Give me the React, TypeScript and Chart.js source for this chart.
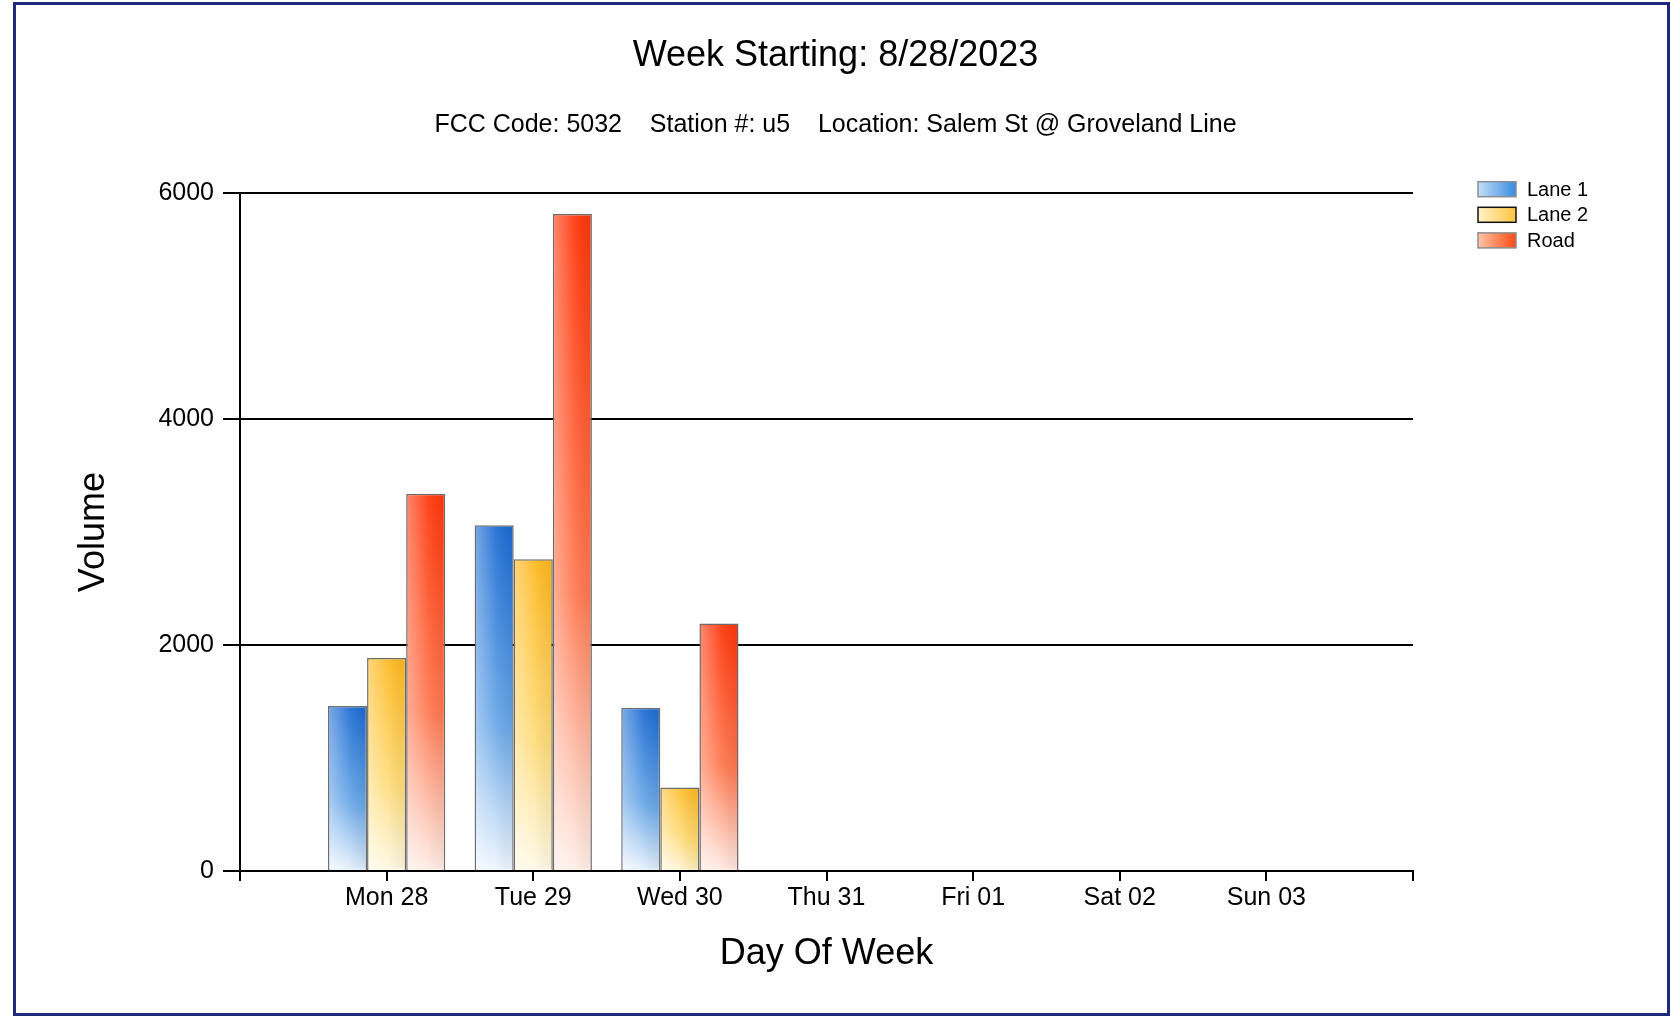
import { useEffect, useRef } from 'react';
import { Chart, registerables } from 'chart.js';

Chart.register(...registerables);

// ---- data ----
const dayLabels = ['Mon 28', 'Tue 29', 'Wed 30', 'Thu 31', 'Fri 01', 'Sat 02', 'Sun 03'];
const seriesNames = ['Lane 1', 'Lane 2', 'Road'];
const lane1Volume = [1460, 3060, 1445, null, null, null, null];
const lane2Volume = [1885, 2760, 740, null, null, null, null];
const roadVolume = [3340, 5815, 2190, null, null, null, null];
const yTickValues = [0, 2000, 4000, 6000];
const titleText = 'Week Starting: 8/28/2023';
const subtitleText = 'FCC Code: 5032    Station #: u5    Location: Salem St @ Groveland Line';

// ---- styling ----
const W = 1671;
const H = 1018;
const FONT = '"Liberation Sans", Arial, Helvetica, sans-serif';

const palettes = [
  { top: '#1a6ad2', mid: '#6aa8e8', bottom: '#f2f8ff', border: '#6c6f74', legL: '#c3def8', legR: '#3b8be2', legBorder: '#8a8f96' },
  { top: '#ffb81e', mid: '#ffdc7a', bottom: '#fffbea', border: '#6c6c66', legL: '#fff3c8', legR: '#ffc440', legBorder: '#111111' },
  { top: '#ff360a', mid: '#ff7a52', bottom: '#fff0ea', border: '#6f6a68', legL: '#ffc6a8', legR: '#ff4a14', legBorder: '#8c8c8c' },
];

function barFill(i: number) {
  return (ctx: any) => {
    const p = palettes[i];
    if (ctx.type !== 'data') return p.top;
    const chart = ctx.chart;
    const xs = chart.scales.x;
    const ys = chart.scales.y;
    const parsed = ctx.parsed;
    if (!parsed || parsed.y == null || !xs || !ys) return p.top;
    const top = ys.getPixelForValue(parsed.y);
    const base = ys.getPixelForValue(0);
    const step = xs.getPixelForValue(1) - xs.getPixelForValue(0);
    const group = step * 0.8;
    const bw = group / 3;
    const left = xs.getPixelForValue(parsed.x) - group / 2 + i * bw;
    if (![top, base, left, bw].every((n) => Number.isFinite(n))) return p.top;
    const g = chart.ctx.createLinearGradient(left, base, left + bw, top);
    g.addColorStop(0, p.bottom);
    g.addColorStop(0.42, p.mid);
    g.addColorStop(1, p.top);
    return g;
  };
}

// soft horizontal sheen on each bar (lighter left edge), positioned from the bar elements
const barSheen = {
  id: 'barSheen',
  afterDatasetsDraw(chart: any) {
    const c = chart.ctx;
    chart.data.datasets.forEach((_ds: any, di: number) => {
      const meta = chart.getDatasetMeta(di);
      meta.data.forEach((el: any) => {
        const { x, y, base, width } = el.getProps(['x', 'y', 'base', 'width'], true);
        if (![x, y, base, width].every((n: number) => Number.isFinite(n))) return;
        const bwd = 1.5;
        const l = x - width / 2 + bwd;
        const r = x + width / 2 - bwd;
        const t = Math.min(y, base) + bwd;
        const b = Math.max(y, base) - bwd;
        if (r <= l || b <= t) return;
        const g = c.createLinearGradient(l, 0, r, 0);
        g.addColorStop(0, 'rgba(255,255,255,0.38)');
        g.addColorStop(0.55, 'rgba(255,255,255,0.08)');
        g.addColorStop(1, 'rgba(0,0,0,0.04)');
        c.save();
        c.fillStyle = g;
        c.fillRect(l, t, r - l, b - t);
        c.restore();
      });
    });
  },
};

const sideLegend = {
  id: 'sideLegend',
  afterDraw(chart: any) {
    const c = chart.ctx;
    const area = chart.chartArea;
    const x0 = area.right + 65;
    const y0 = area.top - 4;
    const gap = 25.6;
    const bw = 38;
    const bh = 15;
    chart.data.datasets.forEach((ds: any, i: number) => {
      const p = palettes[i];
      const cy = y0 + i * gap;
      c.save();
      const g = c.createLinearGradient(x0, 0, x0 + bw, 0);
      g.addColorStop(0, p.legL);
      g.addColorStop(1, p.legR);
      c.fillStyle = g;
      c.fillRect(x0, cy - bh / 2, bw, bh);
      c.strokeStyle = p.legBorder;
      c.lineWidth = 1.5;
      c.strokeRect(x0, cy - bh / 2, bw, bh);
      c.fillStyle = '#000';
      c.font = `20px ${FONT}`;
      c.textBaseline = 'middle';
      c.textAlign = 'left';
      c.fillText(ds.label, x0 + bw + 11, cy + 1);
      c.restore();
    });
  },
};

export default function App() {
  const canvasRef = useRef<HTMLCanvasElement | null>(null);

  useEffect(() => {
    const canvas = canvasRef.current;
    if (!canvas) return;
    const seriesValues = [lane1Volume, lane2Volume, roadVolume];
    const chart = new Chart(canvas, {
      type: 'bar',
      data: {
        datasets: seriesValues.map((vals, i) => ({
          label: seriesNames[i],
          data: vals.map((v, d) => ({ x: d + 1, y: v })),
          backgroundColor: barFill(i),
          borderColor: palettes[i].border,
          borderWidth: 1.5,
          categoryPercentage: 0.8,
          barPercentage: 1,
          xAxisID: 'x',
          yAxisID: 'y',
        })) as any,
      },
      options: {
        responsive: false,
        animation: false,
        devicePixelRatio: 1,
        layout: { padding: 0 },
        plugins: {
          legend: { display: false },
          tooltip: { enabled: false },
          title: {
            display: true,
            text: titleText,
            color: '#000',
            font: { family: FONT, size: 36, weight: 'normal' },
            padding: { top: 34, bottom: 7 },
          },
          subtitle: {
            display: true,
            text: subtitleText,
            color: '#000',
            font: { family: FONT, size: 25, weight: 'normal' },
            padding: { top: 26, bottom: 53 },
          },
        },
        scales: {
          x: {
            type: 'linear',
            position: 'bottom',
            min: 0,
            max: dayLabels.length + 1,
            offset: false,
            grid: {
              display: true,
              offset: false,
              drawOnChartArea: false,
              drawTicks: true,
              tickLength: 10,
              color: '#000',
              lineWidth: 2,
            },
            border: { display: true, color: '#000', width: 2 },
            ticks: {
              stepSize: 1,
              autoSkip: false,
              maxRotation: 0,
              padding: 2,
              color: '#000',
              font: { family: FONT, size: 25 },
              callback: (v: any) => dayLabels[Number(v) - 1] ?? '',
            },
            title: {
              display: true,
              text: 'Day Of Week',
              color: '#000',
              font: { family: FONT, size: 36 },
              padding: { top: 0, bottom: 42 },
            },
            afterFit: (s: any) => {
              s.height = 147;
            },
          },
          y: {
            type: 'linear',
            position: 'left',
            min: yTickValues[0],
            max: yTickValues[yTickValues.length - 1],
            ticks: {
              stepSize: yTickValues[1] - yTickValues[0],
              padding: 9,
              color: '#000',
              font: { family: FONT, size: 25 },
              callback: (v: any) => String(v),
            },
            grid: { color: '#000', lineWidth: 2, tickLength: 17 },
            border: { display: true, color: '#000', width: 2 },
            title: {
              display: true,
              text: 'Volume',
              color: '#000',
              font: { family: FONT, size: 36 },
              padding: { top: 72, bottom: 0 },
            },
            afterFit: (s: any) => {
              s.width = 240;
            },
          },
          rightGap: {
            type: 'linear',
            position: 'right',
            display: true,
            grid: { display: false },
            border: { display: false },
            ticks: { display: false },
            afterFit: (s: any) => {
              s.width = 258;
            },
          },
        },
      } as any,
      plugins: [barSheen, sideLegend],
    });
    return () => chart.destroy();
  }, []);

  return (
    <div style={{ position: 'absolute', left: 0, top: 0, width: W, height: H, background: '#fff' }}>
      <div
        style={{
          position: 'absolute',
          left: 13,
          top: 2,
          right: 1,
          bottom: 2,
          border: '3px solid #1d2a7c',
          boxSizing: 'border-box',
        }}
      />
      <canvas
        ref={canvasRef}
        width={W}
        height={H}
        style={{ position: 'absolute', left: 0, top: 0, width: W, height: H }}
      />
    </div>
  );
}
